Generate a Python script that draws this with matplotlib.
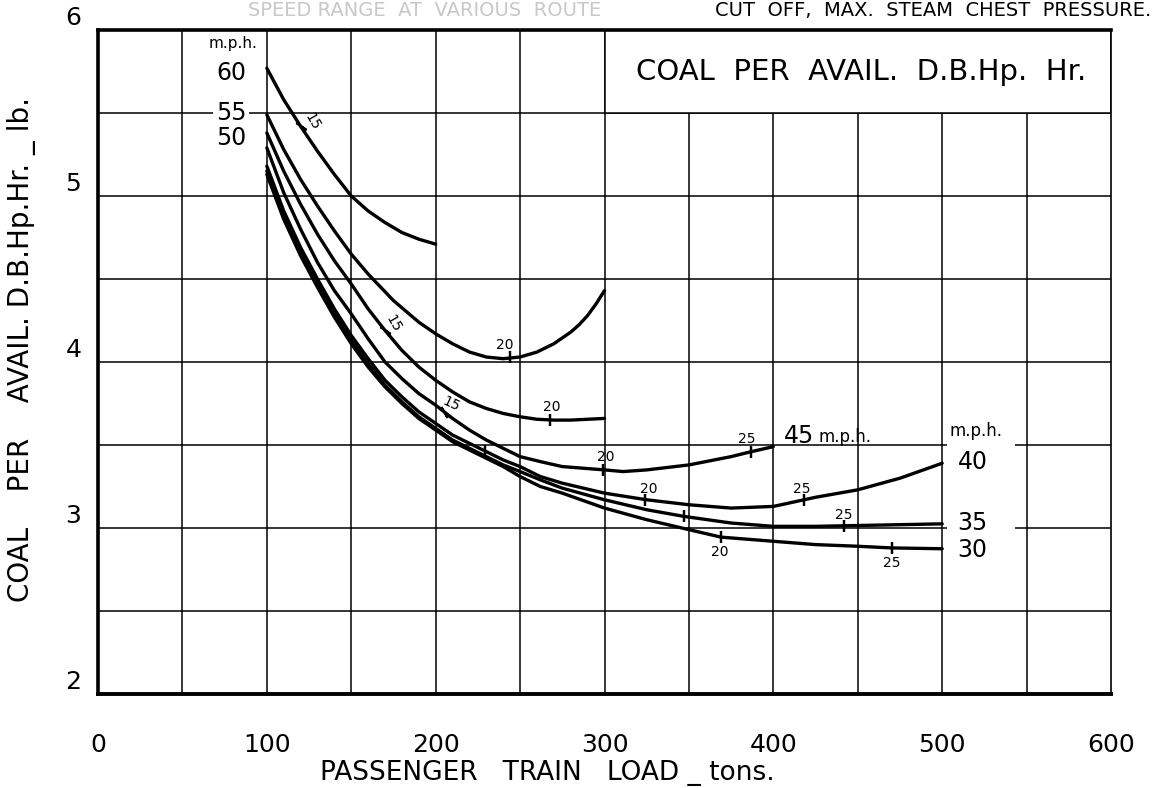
import matplotlib
matplotlib.use("Agg")
import matplotlib.pyplot as plt
from matplotlib.patches import Rectangle

plt.rcParams['font.family'] = ['DejaVu Sans']

# ---------------- data ----------------
x60 = [100, 110, 120, 130, 140, 150, 160, 170, 180, 190, 200]
y60 = [5.77, 5.58, 5.42, 5.27, 5.13, 5.00, 4.91, 4.84, 4.78, 4.74, 4.71]

x55 = [100, 110, 120, 130, 140, 150, 160, 175, 190, 200, 210, 220, 230, 240, 250, 260, 270, 280, 285, 290, 295, 300]
y55 = [5.49, 5.28, 5.10, 4.94, 4.79, 4.65, 4.53, 4.37, 4.24, 4.17, 4.11, 4.06, 4.03, 4.02, 4.03, 4.06, 4.11, 4.18, 4.225, 4.28, 4.35, 4.43]

x50 = [100, 110, 120, 130, 140, 150, 160, 170, 180, 190, 200, 210, 220, 230, 240, 250, 260, 270, 280, 290, 300]
y50 = [5.38, 5.15, 4.95, 4.77, 4.61, 4.47, 4.32, 4.19, 4.07, 3.97, 3.89, 3.82, 3.76, 3.72, 3.69, 3.67, 3.655, 3.65, 3.65, 3.655, 3.66]

x45 = [100, 110, 120, 130, 140, 150, 160, 170, 180, 190, 200, 210, 220, 230, 240, 250, 262, 275, 300, 311, 325, 350, 375, 387, 400]
y45 = [5.29, 5.02, 4.80, 4.60, 4.43, 4.29, 4.14, 4.00, 3.90, 3.81, 3.74, 3.66, 3.59, 3.53, 3.48, 3.43, 3.40, 3.37, 3.35, 3.34, 3.35, 3.38, 3.43, 3.46, 3.49]

x40 = [100, 110, 120, 130, 140, 150, 160, 170, 180, 190, 200, 210, 220, 230, 240, 250, 262, 275, 300, 325, 350, 375, 400, 425, 450, 475, 500]
y40 = [5.18, 4.91, 4.69, 4.50, 4.32, 4.16, 4.02, 3.89, 3.79, 3.70, 3.63, 3.56, 3.51, 3.46, 3.41, 3.37, 3.31, 3.27, 3.21, 3.17, 3.14, 3.12, 3.13, 3.185, 3.23, 3.30, 3.39]

x35 = [100, 110, 120, 130, 140, 150, 160, 170, 180, 190, 200, 210, 220, 230, 240, 250, 262, 275, 300, 325, 347, 375, 400, 425, 450, 475, 500]
y35 = [5.15, 4.88, 4.66, 4.47, 4.29, 4.13, 3.99, 3.86, 3.76, 3.67, 3.60, 3.53, 3.48, 3.43, 3.38, 3.34, 3.29, 3.24, 3.17, 3.11, 3.07, 3.03, 3.01, 3.01, 3.015, 3.02, 3.025]

x30 = [100, 110, 120, 130, 140, 150, 160, 170, 180, 190, 200, 210, 220, 230, 240, 250, 262, 275, 300, 325, 350, 369, 400, 425, 450, 470, 500]
y30 = [5.13, 4.86, 4.64, 4.45, 4.27, 4.11, 3.97, 3.85, 3.75, 3.66, 3.59, 3.52, 3.47, 3.42, 3.37, 3.31, 3.25, 3.21, 3.12, 3.05, 2.99, 2.945, 2.92, 2.90, 2.89, 2.88, 2.875]

# cut-off tick marks on curves: (x, y, label, label_x, label_y, rotation, mark_angle)
marks = [
    (120, 5.42, "15", 127, 5.45, -60, 55),
    (170, 4.19, "15", 175, 4.23, -60, 55),
    (205, 3.70, "15", 209, 3.745, -25, 30),
    (244, 4.03, "20", 241, 4.10, 0, 0),
    (268, 3.65, "20", 269, 3.73, 0, 0),
    (299, 3.35, "20", 301, 3.43, 0, 0),
    (387, 3.46, "25", 384, 3.535, 0, 0),
    (229, 3.465, "", 0, 0, 0, 0),
    (324, 3.17, "20", 326, 3.235, 0, 0),
    (418, 3.17, "25", 417, 3.235, 0, 0),
    (347, 3.07, "", 0, 0, 0, 0),
    (442, 3.015, "25", 441.5, 3.08, 0, 0),
    (369, 2.945, "20", 368.5, 2.855, 0, 0),
    (470, 2.88, "25", 470, 2.79, 0, 0),
]

x_ticks = [0, 100, 200, 300, 400, 500, 600]
y_ticks = [2, 3, 4, 5, 6]

# ---------------- figure ----------------
fig = plt.figure(figsize=(11.57, 7.88), dpi=100)
ax = fig.add_axes([98 / 1157, 1 - 694 / 788, (1111 - 98) / 1157, (694 - 30) / 788])
ax.set_xlim(0, 600)
ax.set_ylim(2, 6)

# grid
for gx in range(50, 600, 50):
    top = 5.5 if gx > 300 else 6
    ax.plot([gx, gx], [2, top], color='black', lw=1.1, zorder=1)
for gy in [2.5, 3.0, 3.5, 4.0, 4.5, 5.0, 5.5]:
    ax.plot([0, 600], [gy, gy], color='black', lw=1.1, zorder=1)

# title box
ax.add_patch(Rectangle((300, 5.5), 300, 0.5, facecolor='white', edgecolor='black', lw=1.1, zorder=2))
ax.text(452, 5.745, "COAL  PER  AVAIL.  D.B.Hp.  Hr.", ha='center', va='center', fontsize=21, zorder=3)

curves = [(x60, y60), (x55, y55), (x50, y50), (x45, y45), (x40, y40), (x35, y35), (x30, y30)]
for xs, ys in curves:
    ax.plot(xs, ys, color='black', lw=2.4, solid_capstyle='round', solid_joinstyle='round', zorder=4)

for (mx, my, lab, lx, ly, rot, ang) in marks:
    ax.plot([mx], [my], marker=(2, 2, ang), markersize=9, mew=1.6, color='black', zorder=5)
    if lab:
        ax.text(lx, ly, lab, ha='center', va='center', fontsize=10, rotation=rot, zorder=5)

# curve speed labels
lab_bbox = dict(facecolor='white', edgecolor='none', pad=2)
ax.text(80, 5.92, "m.p.h.", ha='center', va='center', fontsize=11, zorder=3)
ax.text(79, 5.74, "60", ha='center', va='center', fontsize=17, zorder=3)
ax.text(79, 5.50, "55", ha='center', va='center', fontsize=17, zorder=3, bbox=lab_bbox)
ax.text(79, 5.35, "50", ha='center', va='center', fontsize=17, zorder=3)

ax.text(406, 3.555, "45", ha='left', va='center', fontsize=17, zorder=3)
ax.text(427, 3.55, "m.p.h.", ha='left', va='center', fontsize=12, zorder=3)

ax.add_patch(Rectangle((503, 2.97), 40, 0.66, facecolor='white', edgecolor='none', zorder=2))
ax.text(520, 3.585, "m.p.h.", ha='center', va='center', fontsize=12, zorder=3)
ax.text(518, 3.40, "40", ha='center', va='center', fontsize=17, zorder=3)
ax.text(518, 3.03, "35", ha='center', va='center', fontsize=17, zorder=3)
ax.text(518, 2.87, "30", ha='center', va='center', fontsize=17, zorder=3)

# axes styling
for side, lw in [('left', 2.6), ('bottom', 2.8), ('top', 2.6), ('right', 1.2)]:
    ax.spines[side].set_linewidth(lw)
ax.set_xticks(x_ticks)
ax.set_xticklabels([str(v) for v in x_ticks], fontsize=18)
ax.set_yticks(y_ticks)
ax.set_yticklabels([str(v) for v in y_ticks], fontsize=18)
ax.tick_params(axis='x', length=0, pad=28)
ax.tick_params(axis='y', length=0, pad=12)
for t in ax.get_yticklabels():
    t.set_verticalalignment('bottom')

ax.set_xlabel("PASSENGER   TRAIN   LOAD _ tons.", fontsize=19)
ax.xaxis.set_label_coords((547 - 98) / 1013, (694 - 773) / 664)
ax.xaxis.label.set_verticalalignment('center')
ax.set_ylabel("COAL    PER    AVAIL. D.B.Hp.Hr. _ lb.", fontsize=20)
ax.yaxis.set_label_coords((22 - 98) / 1013, (694 - 350) / 664)
ax.yaxis.label.set_verticalalignment('center')

# header line at the top of the page
fig.text(0.52, 0.999, "SPEED RANGE  AT  VARIOUS  ROUTE", ha='right', va='top',
         fontsize=14, color='#c8c8c8')
fig.text(0.995, 0.999, "CUT  OFF,  MAX.  STEAM  CHEST  PRESSURE.", ha='right', va='top',
         fontsize=14, color='black')

fig.savefig("out.png", dpi=100)
